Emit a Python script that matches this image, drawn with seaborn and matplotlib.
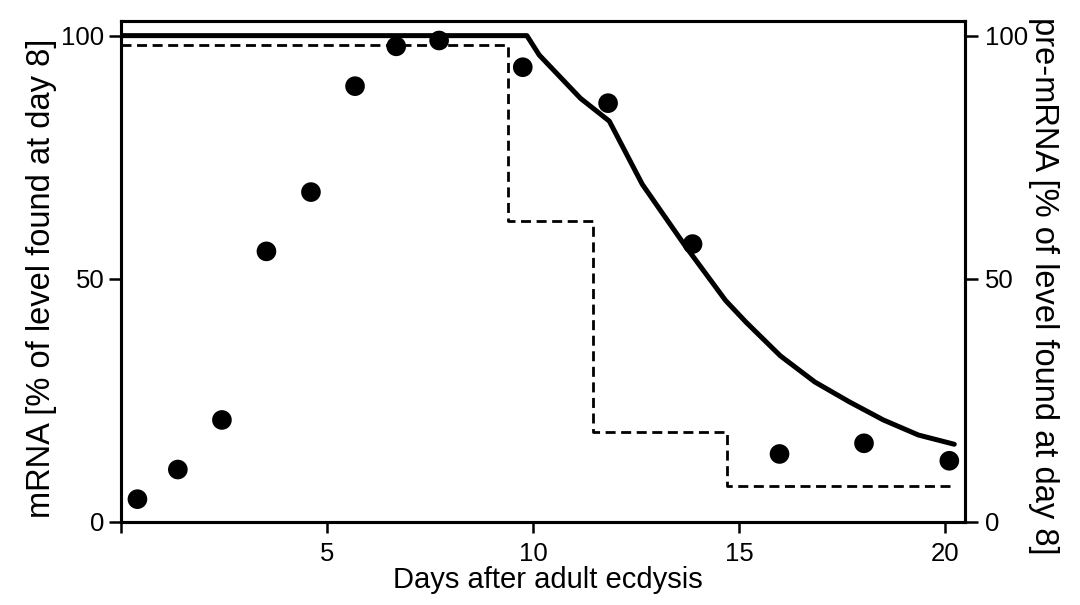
import matplotlib
matplotlib.use("Agg")
import matplotlib.pyplot as plt
import seaborn as sns
import pandas as pd

# mRNA levels (dots, left axis)
mrna_days = [0.4, 1.38, 2.45, 3.53, 4.61, 5.68, 6.68, 7.72, 9.75, 11.82, 13.87, 15.98, 18.03, 20.1]
mrna_level = [4.6, 10.7, 20.9, 55.6, 67.8, 89.6, 97.8, 99.0, 93.5, 86.1, 57.1, 13.9, 16.1, 12.5]

# pre-mRNA decay curve (solid, right axis)
pre_days = [0.0, 9.85, 10.15, 11.15, 11.85, 12.65, 13.66, 14.67, 15.17, 16.0, 16.84, 17.68, 18.5, 19.35, 20.22]
pre_level = [100.0, 100.0, 96.0, 87.1, 82.4, 69.4, 57.1, 45.5, 41.0, 34.1, 28.7, 24.6, 20.9, 17.8, 15.9]

# stepwise pre-mRNA estimate (dashed)
step_days = [0.0, 9.4, 11.45, 14.7, 20.2]
step_level = [98.0, 61.8, 18.5, 7.3, 7.3]

x_ticks = [0, 5, 10, 15, 20]
x_tick_labels = ["", "5", "10", "15", "20"]
y_ticks = [0, 50, 100]

sns.set_theme(style="white")
plt.rcParams["font.family"] = ["Liberation Sans", "DejaVu Sans"]
plt.rcParams["text.color"] = "black"
plt.rcParams["axes.labelcolor"] = "black"
plt.rcParams["xtick.color"] = "black"
plt.rcParams["ytick.color"] = "black"

fig = plt.figure(figsize=(10.8, 6.05), dpi=100)
ax = fig.add_axes([0.112, 0.138, 0.7815, 0.828])
ax2 = ax.twinx()

mrna_df = pd.DataFrame({"day": mrna_days, "level": mrna_level})
pre_df = pd.DataFrame({"day": pre_days, "level": pre_level})
step_df = pd.DataFrame({"day": step_days, "level": step_level})

sns.scatterplot(data=mrna_df, x="day", y="level", ax=ax, color="black", s=200,
                edgecolor="none", zorder=5, legend=False)
sns.lineplot(data=pre_df, x="day", y="level", ax=ax2, color="black", lw=3.6,
             estimator=None, sort=False, legend=False)
sns.lineplot(data=step_df, x="day", y="level", ax=ax2, color="black", lw=2.0,
             estimator=None, sort=False, legend=False, drawstyle="steps-post",
             linestyle=(0, (3.6, 2.0)))

for a in (ax, ax2):
    a.set_xlim(0, 20.48)
    a.set_ylim(0, 103.1)
    a.set_yticks(y_ticks)
    a.set_yticklabels([str(v) for v in y_ticks])
    for side in a.spines.values():
        side.set_color("black")
        side.set_linewidth(2.2)
    a.grid(False)
    a.set_xlabel("")
    a.set_ylabel("")

ax.set_xticks(x_ticks)
ax.set_xticklabels(x_tick_labels)
ax.tick_params(axis="x", direction="out", length=8, width=1.8, colors="black",
               labelsize=18.5, pad=7, bottom=True)
ax.tick_params(axis="y", direction="out", length=9, width=1.8, colors="black",
               labelsize=18.5, pad=3, left=True)
ax2.tick_params(axis="y", direction="out", length=9.5, width=1.8, colors="black",
                labelsize=18.5, pad=5, right=True)

ax.set_xlabel("Days after adult ecdysis", fontsize=21, color="black")
ax.xaxis.set_label_coords(0.506, -0.088)
fig.text(0.038, 0.540, "mRNA [% of level found at day 8]", rotation=90,
         ha="center", va="center", fontsize=23.5, color="black")
fig.text(0.966, 0.528, "pre-mRNA [% of level found at day 8]", rotation=270,
         ha="center", va="center", fontsize=23.5, color="black")

fig.savefig("out.png", dpi=100, facecolor="white")
